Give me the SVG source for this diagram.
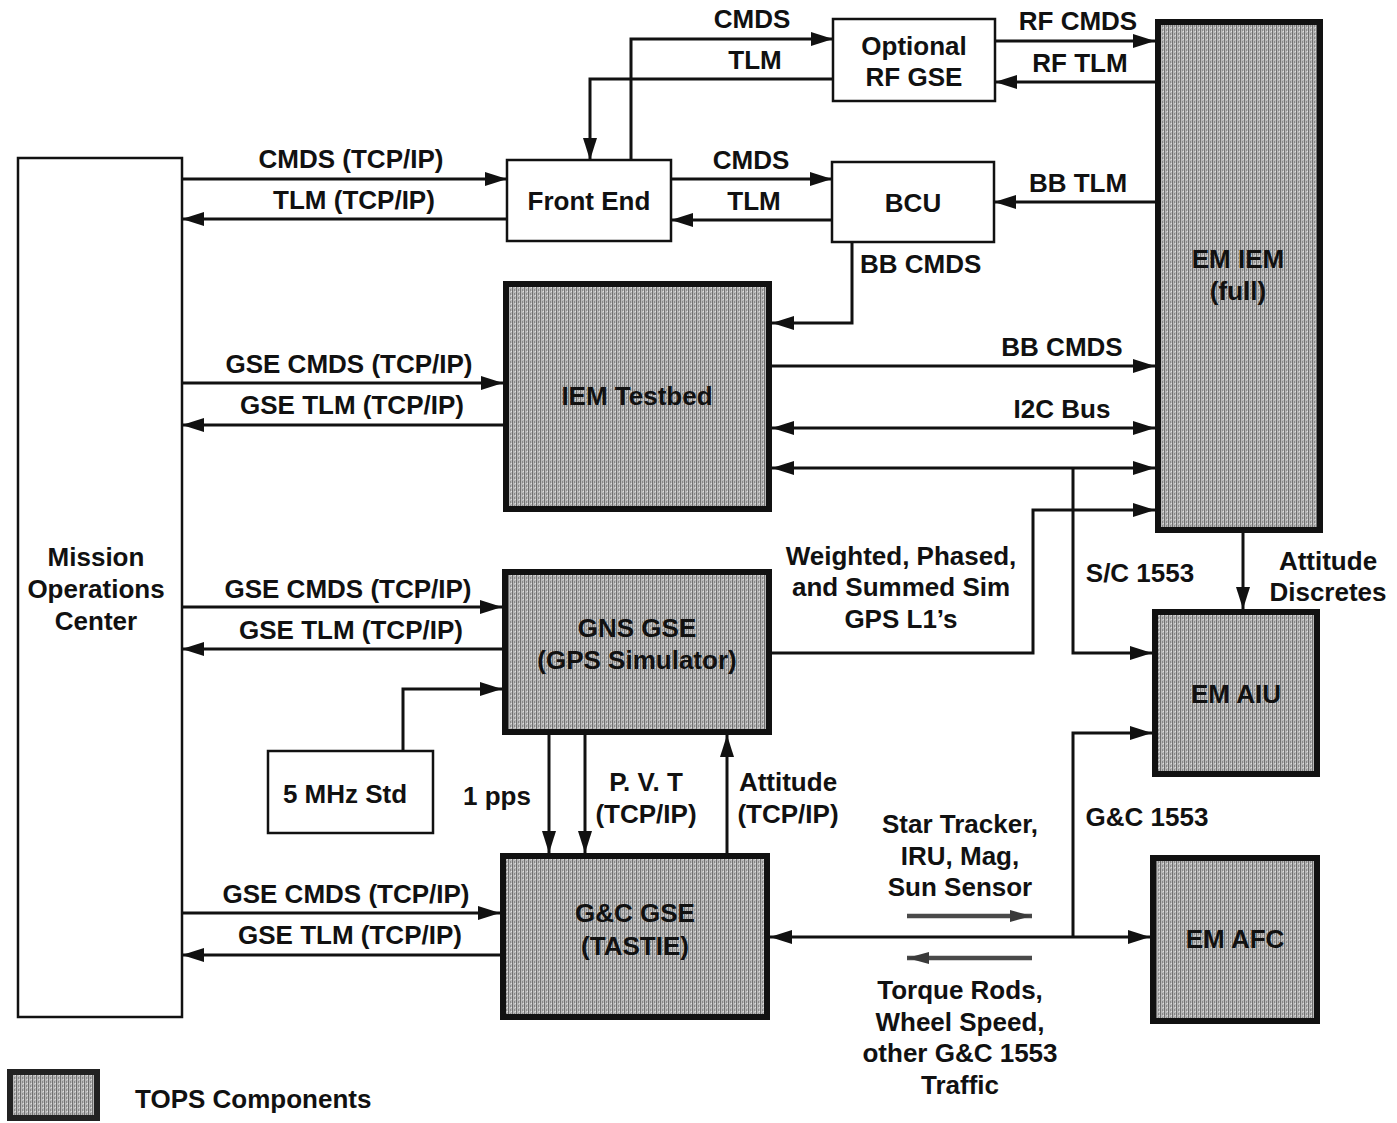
<svg xmlns="http://www.w3.org/2000/svg" width="1397" height="1123" viewBox="0 0 1397 1123">
<defs>
<style>
text{font-family:"Liberation Sans",Arial,sans-serif;font-weight:bold;font-size:26px;fill:#111;text-anchor:middle}
.box{fill:#fff;stroke:#111;stroke-width:2.5}
.tops{fill:url(#tex);stroke:#111;stroke-width:6}
.ln{fill:none;stroke:#111;stroke-width:3}
.a{marker-end:url(#ah)}
.b{marker-start:url(#ah);marker-end:url(#ah)}
.g{fill:none;stroke:#4a4a4a;stroke-width:4.5;marker-end:url(#gh)}
.l{text-anchor:start}
</style>
<marker id="ah" markerUnits="userSpaceOnUse" markerWidth="24" markerHeight="16" refX="22" refY="7" orient="auto-start-reverse"><path d="M0,0 L22,7 L0,14 z" fill="#111"/></marker>
<marker id="gh" markerUnits="userSpaceOnUse" markerWidth="24" markerHeight="16" refX="22" refY="7" orient="auto"><path d="M0,1 L22,7 L0,13 z" fill="#3a3a3a"/></marker>
<pattern id="tex" width="4" height="4" patternUnits="userSpaceOnUse"><rect width="4" height="4" fill="#b8b8b8"/><rect x="0" y="0" width="1" height="4" fill="#707070"/><rect x="2" y="1" width="1" height="2" fill="#8a8a8a"/><rect x="3" y="3" width="1" height="1" fill="#e0e0e0"/></pattern>
</defs>

<g id="connectors">
<path class="ln a" d="M182,179 H507"/>
<path class="ln a" d="M507,219 H182"/>
<path class="ln a" d="M631,160 V39 H833"/>
<path class="ln a" d="M833,79 H590 V160"/>
<path class="ln a" d="M671,179 H832"/>
<path class="ln a" d="M832,220 H671"/>
<path class="ln a" d="M995,41 H1155"/>
<path class="ln a" d="M1155,82 H995"/>
<path class="ln a" d="M1155,202 H994"/>
<path class="ln a" d="M852,242 V323 H772"/>
<path class="ln a" d="M772,366 H1155"/>
<path class="ln b" d="M772,428 H1155"/>
<path class="ln b" d="M772,468 H1155"/>
<path class="ln a" d="M1073,468 V653 H1152"/>
<path class="ln a" d="M772,653 H1033 V510 H1155"/>
<path class="ln a" d="M1243,533 V609"/>
<path class="ln a" d="M182,383 H503"/>
<path class="ln a" d="M503,425 H182"/>
<path class="ln a" d="M182,607 H502"/>
<path class="ln a" d="M502,649 H182"/>
<path class="ln a" d="M403,751 V689 H502"/>
<path class="ln a" d="M549,735 V853"/>
<path class="ln a" d="M585,735 V853"/>
<path class="ln a" d="M727,853 V735"/>
<path class="ln a" d="M182,913 H500"/>
<path class="ln a" d="M500,955 H182"/>
<path class="ln b" d="M770,937 H1150"/>
<path class="ln a" d="M1073,937 V733 H1152"/>
<path class="g" d="M907,916 H1032"/>
<path class="g" d="M1032,958 H907"/>

<text x="351" y="168">CMDS (TCP/IP)</text>
<text x="354" y="209">TLM (TCP/IP)</text>
<text x="752" y="28">CMDS</text>
<text x="755" y="69">TLM</text>
<text x="751" y="169">CMDS</text>
<text x="754" y="210">TLM</text>
<text x="1078" y="30">RF CMDS</text>
<text x="1080" y="72">RF TLM</text>
<text x="1078" y="192">BB TLM</text>
<text class="l" x="860" y="273">BB CMDS</text>
<text x="1062" y="356">BB CMDS</text>
<text x="1062" y="418">I2C Bus</text>
<text x="349" y="373">GSE CMDS (TCP/IP)</text>
<text x="352" y="414">GSE TLM (TCP/IP)</text>
<text x="901" y="565">Weighted, Phased,</text>
<text x="901" y="596">and Summed Sim</text>
<text x="901" y="628">GPS L1’s</text>
<text x="1140" y="582">S/C 1553</text>
<text x="1328" y="570">Attitude</text>
<text x="1328" y="601">Discretes</text>
<text x="348" y="598">GSE CMDS (TCP/IP)</text>
<text x="351" y="639">GSE TLM (TCP/IP)</text>
<text x="497" y="805">1 pps</text>
<text x="646" y="791">P. V. T</text>
<text x="646" y="823">(TCP/IP)</text>
<text x="788" y="791">Attitude</text>
<text x="788" y="823">(TCP/IP)</text>
<text x="1147" y="826">G&amp;C 1553</text>
<text x="960" y="833">Star Tracker,</text>
<text x="960" y="865">IRU, Mag,</text>
<text x="960" y="896">Sun Sensor</text>
<text x="960" y="999">Torque Rods,</text>
<text x="960" y="1031">Wheel Speed,</text>
<text x="960" y="1062">other G&amp;C 1553</text>
<text x="960" y="1094">Traffic</text>
<text x="346" y="903">GSE CMDS (TCP/IP)</text>
<text x="350" y="944">GSE TLM (TCP/IP)</text>
</g>

<g id="moc">
<rect class="box" x="18" y="158" width="164" height="859"/>
<text x="96" y="566">Mission</text>
<text x="96" y="598">Operations</text>
<text x="96" y="630">Center</text>
</g>
<g id="front-end">
<rect class="box" x="507" y="160" width="164" height="81"/>
<text x="589" y="210">Front End</text>
</g>
<g id="rf-gse">
<rect class="box" x="833" y="19" width="162" height="82"/>
<text x="914" y="55">Optional</text>
<text x="914" y="86">RF GSE</text>
</g>
<g id="bcu">
<rect class="box" x="832" y="162" width="162" height="80"/>
<text x="913" y="212">BCU</text>
</g>
<g id="em-iem">
<rect class="tops" x="1158" y="22" width="162" height="508"/>
<text x="1238" y="268">EM IEM</text>
<text x="1238" y="300">(full)</text>
</g>
<g id="iem-testbed">
<rect class="tops" x="506" y="284" width="263" height="225"/>
<text x="637" y="405">IEM Testbed</text>
</g>
<g id="gns-gse">
<rect class="tops" x="505" y="572" width="264" height="160"/>
<text x="637" y="637">GNS GSE</text>
<text x="637" y="669">(GPS Simulator)</text>
</g>
<g id="gc-gse">
<rect class="tops" x="503" y="856" width="264" height="161"/>
<text x="635" y="922">G&amp;C GSE</text>
<text x="635" y="955">(TASTIE)</text>
</g>
<g id="em-aiu">
<rect class="tops" x="1155" y="612" width="162" height="162"/>
<text x="1236" y="703">EM AIU</text>
</g>
<g id="em-afc">
<rect class="tops" x="1153" y="858" width="164" height="163"/>
<text x="1235" y="948">EM AFC</text>
</g>
<g id="mhz-std">
<rect class="box" x="268" y="751" width="165" height="82"/>
<text x="345" y="803">5 MHz Std</text>
</g>
<g id="legend">
<rect x="10" y="1072" width="87" height="46" fill="url(#tex)" stroke="#222" stroke-width="6"/>
<text class="l" x="135" y="1108">TOPS Components</text>
</g>
</svg>
